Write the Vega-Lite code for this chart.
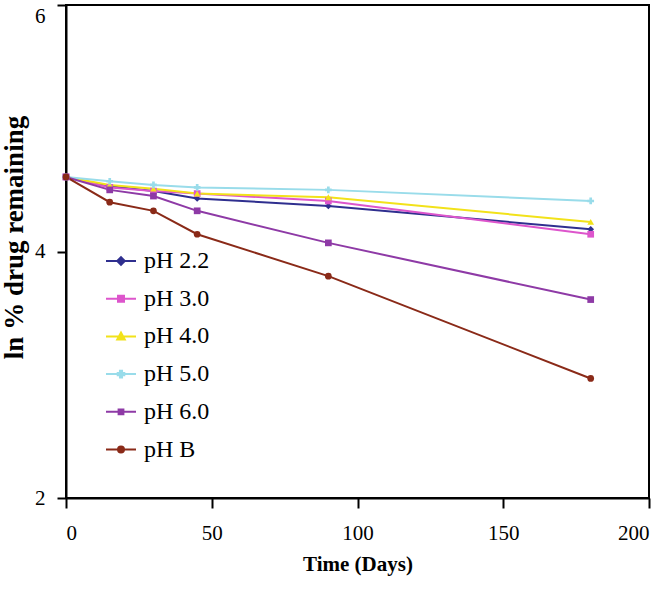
{
  "$schema": "https://vega.github.io/schema/vega-lite/v6.json",
  "width": 583,
  "height": 493,
  "autosize": {"type": "none"},
  "padding": {"left": 66, "top": 5, "right": 18, "bottom": 96},
  "background": "white",
  "config": {
    "view": {"stroke": "black", "strokeWidth": 2},
    "font": "Liberation Serif",
    "axis": {"grid": false, "domainColor": "black", "domainWidth": 2, "tickColor": "black", "tickWidth": 2, "labelColor": "black", "titleColor": "black", "labelFont": "Liberation Serif", "titleFont": "Liberation Serif"}
  },
  "data": {"values": [
    {"t": 0, "series": "pH 2.2", "v": 4.605}, {"t": 15, "series": "pH 2.2", "v": 4.53}, {"t": 30, "series": "pH 2.2", "v": 4.49}, {"t": 45, "series": "pH 2.2", "v": 4.43}, {"t": 90, "series": "pH 2.2", "v": 4.37}, {"t": 180, "series": "pH 2.2", "v": 4.18},
    {"t": 0, "series": "pH 3.0", "v": 4.605}, {"t": 15, "series": "pH 3.0", "v": 4.52}, {"t": 30, "series": "pH 3.0", "v": 4.49}, {"t": 45, "series": "pH 3.0", "v": 4.47}, {"t": 90, "series": "pH 3.0", "v": 4.41}, {"t": 180, "series": "pH 3.0", "v": 4.14},
    {"t": 0, "series": "pH 4.0", "v": 4.605}, {"t": 15, "series": "pH 4.0", "v": 4.54}, {"t": 30, "series": "pH 4.0", "v": 4.51}, {"t": 45, "series": "pH 4.0", "v": 4.47}, {"t": 90, "series": "pH 4.0", "v": 4.44}, {"t": 180, "series": "pH 4.0", "v": 4.24},
    {"t": 0, "series": "pH 5.0", "v": 4.605}, {"t": 15, "series": "pH 5.0", "v": 4.57}, {"t": 30, "series": "pH 5.0", "v": 4.54}, {"t": 45, "series": "pH 5.0", "v": 4.52}, {"t": 90, "series": "pH 5.0", "v": 4.5}, {"t": 180, "series": "pH 5.0", "v": 4.41},
    {"t": 0, "series": "pH 6.0", "v": 4.605}, {"t": 15, "series": "pH 6.0", "v": 4.5}, {"t": 30, "series": "pH 6.0", "v": 4.45}, {"t": 45, "series": "pH 6.0", "v": 4.33}, {"t": 90, "series": "pH 6.0", "v": 4.07}, {"t": 180, "series": "pH 6.0", "v": 3.61},
    {"t": 0, "series": "pH B", "v": 4.605}, {"t": 15, "series": "pH B", "v": 4.4}, {"t": 30, "series": "pH B", "v": 4.33}, {"t": 45, "series": "pH B", "v": 4.14}, {"t": 90, "series": "pH B", "v": 3.8}, {"t": 180, "series": "pH B", "v": 2.97}
  ]},
  "encoding": {
    "x": {"field": "t", "type": "quantitative", "scale": {"domain": [0, 200], "nice": false},
      "axis": {"values": [0, 50, 100, 150, 200], "title": "Time (Days)", "tickSize": 10, "labelFontSize": 21, "labelPadding": 14, "titleFontSize": 21, "titleFontWeight": "bold", "titleY": 55, "titleBaseline": "top"}},
    "y": {"field": "v", "type": "quantitative", "scale": {"domain": [2, 6], "nice": false, "zero": false},
      "axis": {"values": [2, 4, 6], "title": "ln % drug remaining", "tickSize": 9, "labelFontSize": 21, "labelPadding": 12,
        "labelBaseline": {"condition": {"test": "datum.value === 6", "value": "top"}, "value": "middle"},
        "titleFontSize": 27, "titleFontWeight": "bold", "titleX": -52, "titleY": 232, "titleBaseline": "middle", "titleAnchor": "middle"}},
    "color": {"field": "series", "type": "nominal",
      "scale": {"domain": ["pH 2.2", "pH 3.0", "pH 4.0", "pH 5.0", "pH 6.0", "pH B"], "range": ["#2f2f8f", "#dd55cc", "#f2e21a", "#99dcea", "#8e3aa6", "#8a2a18"]},
      "legend": {
        "title": null, "orient": "none", "legendX": 39, "legendY": 240,
        "symbolSize": 900, "symbolStrokeWidth": 2, "rowPadding": 9.7, "labelOffset": 7,
        "labelFont": "Liberation Serif", "labelFontSize": 24, "labelColor": "black", "labelLimit": 200,
        "encode": {"symbols": {"update": {
          "shape": {"signal": "datum.value === 'pH 2.2' ? 'M-1,0L1,0M-0.25,0L0,-0.25L0.25,0L0,0.25Z' : datum.value === 'pH 3.0' ? 'M-1,0L1,0M-0.2,-0.2L0.2,-0.2L0.2,0.2L-0.2,0.2Z' : datum.value === 'pH 4.0' ? 'M-1,0L1,0M-0.25,0.2L0,-0.25L0.25,0.2Z' : datum.value === 'pH 5.0' ? 'M-1,0L1,0M-0.07,-0.22L0.07,-0.22L0.07,-0.07L0.22,-0.07L0.22,0.07L0.07,0.07L0.07,0.22L-0.07,0.22L-0.07,0.07L-0.22,0.07L-0.22,-0.07L-0.07,-0.07Z' : datum.value === 'pH 6.0' ? 'M-1,0L1,0M-0.16,-0.16L0.16,-0.16L0.16,0.16L-0.16,0.16Z' : 'M-1,0L1,0M0.2,0A0.2,0.2,0,1,1,-0.2,0A0.2,0.2,0,1,1,0.2,0Z'"},
          "fill": {"signal": "scale('color', datum.value)"},
          "stroke": {"signal": "scale('color', datum.value)"},
          "strokeWidth": {"value": 2},
          "opacity": {"value": 1}
        }}}
      }
    }
  },
  "layer": [
    {
      "mark": {"type": "line", "strokeWidth": 2}
    },
    {
      "mark": {"type": "point", "filled": true, "opacity": 1, "size": 45},
      "encoding": {
        "shape": {
          "condition": [
            {"test": "datum.series === 'pH 2.2'", "value": "diamond"},
            {"test": "datum.series === 'pH 3.0'", "value": "square"},
            {"test": "datum.series === 'pH 4.0'", "value": "triangle-up"},
            {"test": "datum.series === 'pH 5.0'", "value": "cross"},
            {"test": "datum.series === 'pH 6.0'", "value": "square"}
          ],
          "value": "circle"
        }
      }
    }
  ]
}
